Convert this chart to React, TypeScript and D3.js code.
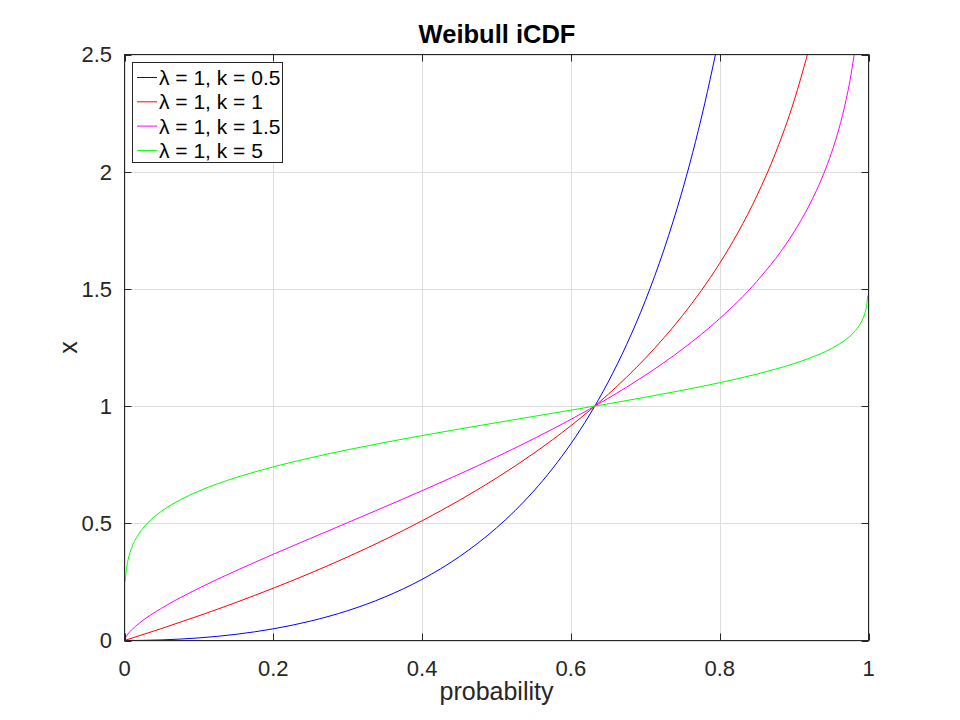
import React, { useEffect, useRef } from 'react';
import * as d3 from 'd3';

// values (probability -> x)
const pK05 = [0.001, 0.025, 0.05, 0.075, 0.1, 0.125, 0.15, 0.175, 0.2, 0.25, 0.3, 0.35, 0.4, 0.45, 0.5, 0.525, 0.55, 0.575, 0.6, 0.625, 0.65, 0.675, 0.7, 0.725, 0.75, 0.76, 0.775, 0.78, 0.7943];
const xK05 = [0.000001, 0.00064, 0.0026, 0.0061, 0.0111, 0.0178, 0.0264, 0.037, 0.0498, 0.0828, 0.1272, 0.1856, 0.2609, 0.3574, 0.4805, 0.5542, 0.6376, 0.7322, 0.8396, 0.962, 1.1021, 1.2632, 1.4495, 1.6666, 1.9218, 2.0367, 2.225, 2.2926, 2.5];

const pK1 = [0.001, 0.05, 0.1, 0.15, 0.2, 0.25, 0.3, 0.35, 0.4, 0.45, 0.5, 0.525, 0.55, 0.575, 0.6, 0.625, 0.65, 0.675, 0.7, 0.725, 0.75, 0.775, 0.8, 0.825, 0.85, 0.875, 0.9, 0.918];
const xK1 = [0.001, 0.0513, 0.1054, 0.1625, 0.2231, 0.2877, 0.3567, 0.4308, 0.5108, 0.5978, 0.6931, 0.7444, 0.7985, 0.8557, 0.9163, 0.9808, 1.0498, 1.1239, 1.204, 1.291, 1.3863, 1.4917, 1.6094, 1.743, 1.8971, 2.0794, 2.3026, 2.501];

const pK15 = [0.001, 0.005, 0.01, 0.02, 0.05, 0.1, 0.15, 0.2, 0.25, 0.3, 0.35, 0.4, 0.45, 0.5, 0.55, 0.6, 0.65, 0.7, 0.75, 0.8, 0.85, 0.9, 0.92, 0.94, 0.95, 0.96, 0.97, 0.975, 0.9808];
const xK15 = [0.01, 0.0293, 0.0466, 0.0742, 0.138, 0.2231, 0.2978, 0.3679, 0.4358, 0.5029, 0.5704, 0.639, 0.7097, 0.7832, 0.8607, 0.9434, 1.0329, 1.1317, 1.2433, 1.3734, 1.5325, 1.7437, 1.8547, 1.9929, 2.0781, 2.1801, 2.3081, 2.3874, 2.5];

const pK5 = [0.001, 0.002, 0.003, 0.005, 0.01, 0.02, 0.03, 0.05, 0.075, 0.1, 0.15, 0.2, 0.25, 0.3, 0.35, 0.4, 0.45, 0.5, 0.55, 0.6, 0.65, 0.7, 0.75, 0.8, 0.85, 0.9, 0.92, 0.95, 0.97, 0.98, 0.99, 0.995, 0.998, 0.999];
const xK5 = [0.2513, 0.2886, 0.313, 0.3468, 0.3985, 0.4582, 0.4974, 0.5521, 0.6003, 0.6376, 0.6953, 0.7408, 0.7794, 0.8137, 0.845, 0.8743, 0.9022, 0.9293, 0.956, 0.9827, 1.0098, 1.0378, 1.0675, 1.0999, 1.1366, 1.1815, 1.2036, 1.2454, 1.2852, 1.3136, 1.3572, 1.3958, 1.4411, 1.4719];

const seriesLabels = ['λ = 1, k = 0.5', 'λ = 1, k = 1', 'λ = 1, k = 1.5', 'λ = 1, k = 5'];
const seriesColors = ['#0000ff', '#ff0000', '#ff00ff', '#00ff00'];
const seriesP = [pK05, pK1, pK15, pK5];
const seriesX = [xK05, xK1, xK15, xK5];

const xTicks = [0, 0.2, 0.4, 0.6, 0.8, 1];
const yTicks = [0, 0.5, 1, 1.5, 2, 2.5];

const FONT = '"Liberation Sans", Arial, Helvetica, sans-serif';
const AXIS = '#262626';

const App: React.FC = () => {
  const ref = useRef<SVGSVGElement | null>(null);

  useEffect(() => {
    if (!ref.current) return;
    const svg = d3.select(ref.current);
    svg.selectAll('*').remove();

    const left = 124.5, right = 868.5, top = 54.5, bottom = 640.5;
    const x = d3.scaleLinear().domain([0, 1]).range([left, right]);
    const y = d3.scaleLinear().domain([0, 2.5]).range([bottom, top]);

    svg.append('rect').attr('width', 960).attr('height', 720).attr('fill', '#fff');

    svg.append('defs').append('clipPath').attr('id', 'plot-clip')
      .append('rect')
      .attr('x', left).attr('y', top)
      .attr('width', right - left).attr('height', bottom - top);

    // grid
    const grid = svg.append('g').attr('stroke', '#dedede').attr('stroke-width', 1);
    xTicks.forEach(t => {
      grid.append('line').attr('x1', Math.round(x(t)) + 0.5).attr('x2', Math.round(x(t)) + 0.5)
        .attr('y1', top).attr('y2', bottom);
    });
    yTicks.forEach(t => {
      grid.append('line').attr('y1', Math.round(y(t)) + 0.5).attr('y2', Math.round(y(t)) + 0.5)
        .attr('x1', left).attr('x2', right);
    });

    // curves
    const line = d3.line<[number, number]>()
      .x(d => x(d[0]))
      .y(d => y(d[1]))
      .curve(d3.curveMonotoneX);

    const plot = svg.append('g').attr('clip-path', 'url(#plot-clip)');
    seriesP.forEach((ps, i) => {
      const pts = ps.map((p, j) => [p, seriesX[i][j]] as [number, number]);
      plot.append('path')
        .datum(pts)
        .attr('d', line)
        .attr('fill', 'none')
        .attr('stroke', seriesColors[i])
        .attr('stroke-width', 1);
    });

    // axes box + inward ticks
    const ax = svg.append('g').attr('stroke', AXIS).attr('stroke-width', 1).attr('fill', 'none');
    ax.append('rect').attr('x', left).attr('y', top).attr('width', right - left).attr('height', bottom - top);
    const tl = 7;
    xTicks.forEach(t => {
      const px = Math.round(x(t)) + 0.5;
      ax.append('line').attr('x1', px).attr('x2', px).attr('y1', bottom).attr('y2', bottom - tl);
      ax.append('line').attr('x1', px).attr('x2', px).attr('y1', top).attr('y2', top + tl);
    });
    yTicks.forEach(t => {
      const py = Math.round(y(t)) + 0.5;
      ax.append('line').attr('y1', py).attr('y2', py).attr('x1', left).attr('x2', left + tl);
      ax.append('line').attr('y1', py).attr('y2', py).attr('x1', right).attr('x2', right - tl);
    });

    const txt = svg.append('g').attr('font-family', FONT).attr('fill', AXIS);

    txt.selectAll('.xt').data(xTicks).enter().append('text')
      .attr('x', d => x(d)).attr('y', 676)
      .attr('text-anchor', 'middle').attr('font-size', 22)
      .text(d => d3.format('~g')(d));

    txt.selectAll('.yt').data(yTicks).enter().append('text')
      .attr('x', 112).attr('y', d => y(d)).attr('dy', '0.36em')
      .attr('text-anchor', 'end').attr('font-size', 22)
      .text(d => d3.format('~g')(d));

    txt.append('text')
      .attr('x', (left + right) / 2).attr('y', 700)
      .attr('text-anchor', 'middle').attr('font-size', 25)
      .text('probability');

    txt.append('text')
      .attr('transform', `translate(77,${(top + bottom) / 2}) rotate(-90)`)
      .attr('text-anchor', 'middle').attr('font-size', 25)
      .text('x');

    txt.append('text')
      .attr('x', (left + right) / 2 + 0.5).attr('y', 43)
      .attr('text-anchor', 'middle').attr('font-size', 25.5).attr('font-weight', 'bold')
      .attr('fill', '#000')
      .text('Weibull iCDF');

    // legend
    const lg = svg.append('g');
    lg.append('rect')
      .attr('x', 132.5).attr('y', 62.5).attr('width', 150).attr('height', 100)
      .attr('fill', '#fff').attr('stroke', AXIS).attr('stroke-width', 1);
    seriesLabels.forEach((label, i) => {
      const cy = 77.5 + i * 24.3;
      lg.append('line')
        .attr('x1', 137).attr('x2', 157).attr('y1', cy).attr('y2', cy)
        .attr('stroke', seriesColors[i]).attr('stroke-width', 1);
      lg.append('text')
        .attr('x', 159).attr('y', cy).attr('dy', '0.36em')
        .attr('font-family', FONT).attr('font-size', 21).attr('fill', '#000')
        .text(label);
    });
  }, []);

  return (
    <svg ref={ref} width={960} height={720}
      style={{ position: 'absolute', left: 0, top: 0, display: 'block' }} />
  );
};

export default App;
